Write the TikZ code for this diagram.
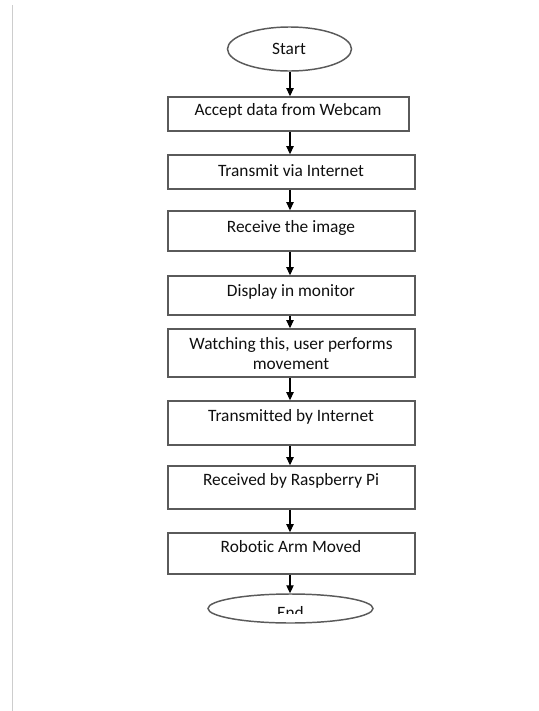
\documentclass[tikz,border=0pt]{standalone}
\usepackage{fontspec}
\setmainfont[Ligatures={NoCommon}]{Carlito}
\usetikzlibrary{arrows.meta,shapes.geometric}
\definecolor{bd}{RGB}{90,90,90}
\definecolor{tx}{RGB}{15,15,15}
\definecolor{pageline}{RGB}{205,205,205}
\begin{document}
\begin{tikzpicture}[x=0.75pt,y=-0.75pt,
  box/.style={draw=bd, line width=1.2pt, inner sep=0pt, minimum width=185.25pt},
  oval/.style={ellipse, draw=bd, line width=1.1pt, inner sep=0pt},
  txt/.style={text=tx, font=\fontsize{13pt}{15pt}\selectfont, inner sep=0pt, anchor=base},
  arr/.style={draw=black, line width=0.8pt, -{Triangle[length=6pt,width=5.5pt]}}
]
\useasboundingbox (0,0) rectangle (539,711);
\draw[pageline, line width=1.1pt] (12.5,5) -- (12.5,711);

\coordinate (ax) at (290,0);

\node[oval, minimum width=93pt, minimum height=33pt] (start) at (289.5,49) {};
\node[txt] (tstart) at (289,54) {Start};

\node[box, minimum width=180.75pt, minimum height=25.5pt] (b1) at (288.5,114) {};
\node[txt] (t1) at (288,115.5) {Accept data from Webcam};

\node[box, minimum height=25.5pt] (b2) at (291.5,172) {};
\node[txt] (t2) at (291,176.5) {Transmit via Internet};

\node[box, minimum height=30pt] (b3) at (291.5,231) {};
\node[txt] (t3) at (291,232.5) {Receive the image};

\node[box, minimum height=29.25pt] (b4) at (291.5,295.5) {};
\node[txt] (t4) at (291,296.5) {Display in monitor};

\node[box, minimum height=36pt] (b5) at (291.5,353) {};
\node[txt] (t5) at (291,349.5) {Watching this, user performs};
\node[txt] (t5b) at (291,369.5) {movement};

\node[box, minimum height=33pt] (b6) at (291.5,423) {};
\node[txt] (t6) at (291,421.5) {Transmitted by Internet};

\node[box, minimum height=32.25pt] (b7) at (291.5,487.5) {};
\node[txt] (t7) at (291,485.5) {Received by Raspberry Pi};

\node[box, minimum height=30.75pt] (b8) at (291.5,553.5) {};
\node[txt] (t8) at (291,552.5) {Robotic Arm Moved};

\node[oval, minimum width=123.75pt, minimum height=21.75pt] (end) at (290.5,608.5) {};
\begin{scope}
  \clip (200,590) rectangle (380,613.5);
  \node[txt] (tend) at (290.5,618) {End};
\end{scope}

\draw[arr] (start.south -| ax) -- (b1.north -| ax);
\draw[arr] (b1.south -| ax) -- (b2.north -| ax);
\draw[arr] (b2.south -| ax) -- (b3.north -| ax);
\draw[arr] (b3.south -| ax) -- (b4.north -| ax);
\draw[arr] (b4.south -| ax) -- (b5.north -| ax);
\draw[arr] (b5.south -| ax) -- (b6.north -| ax);
\draw[arr] (b6.south -| ax) -- (b7.north -| ax);
\draw[arr] (b7.south -| ax) -- (b8.north -| ax);
\draw[arr] (b8.south -| ax) -- (end.north -| ax);
\end{tikzpicture}
\end{document}
